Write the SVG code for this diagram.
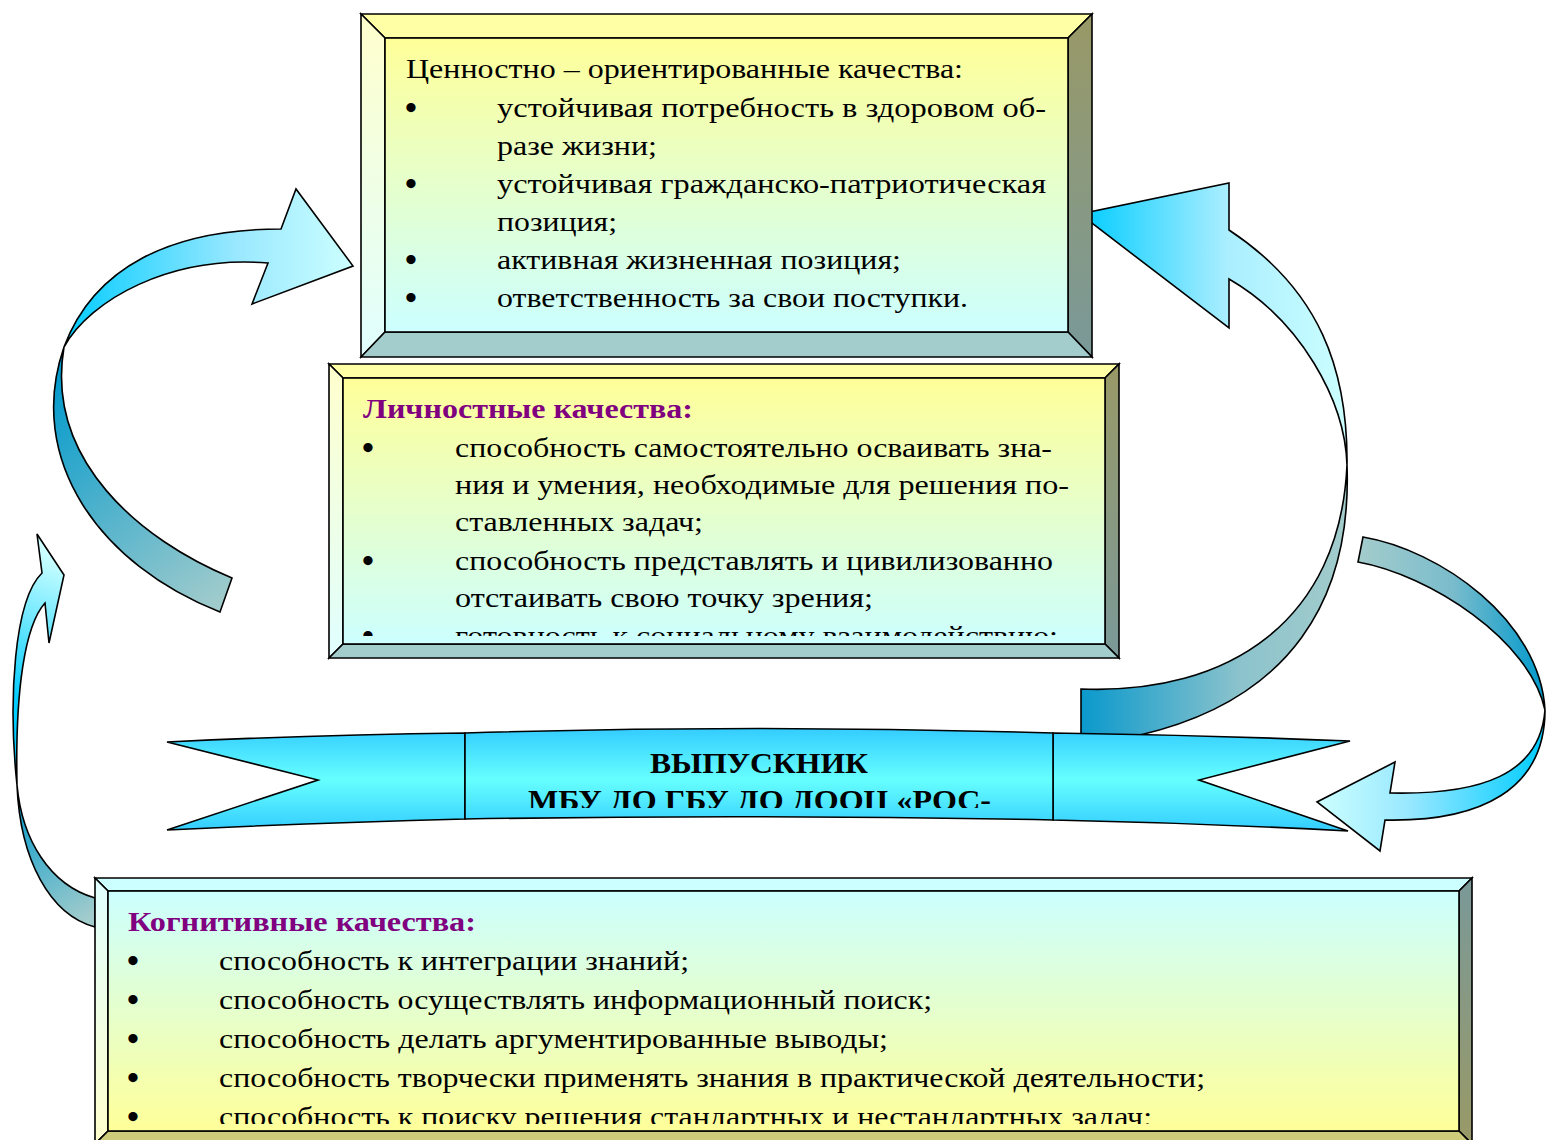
<svg xmlns="http://www.w3.org/2000/svg" width="1546" height="1140" viewBox="0 0 1546 1140">
<style>
.ol{stroke:#000;stroke-width:1.6;stroke-linejoin:miter}
.tx{font-family:"Liberation Serif","Times New Roman",serif;font-size:27px;fill:#000}
.bu{font-family:"Liberation Serif","Times New Roman",serif;font-size:34px;font-weight:bold;fill:#000}
.tt{font-family:"Liberation Serif","Times New Roman",serif;font-size:27px;font-weight:bold;fill:#800080}
.bn{font-family:"Liberation Serif","Times New Roman",serif;font-size:30px;font-weight:bold;fill:#000}
</style>
<defs>
<linearGradient id="faceYC" x1="0" y1="0" x2="0" y2="1"><stop offset="0" stop-color="#FFFF99"/><stop offset="1" stop-color="#CCFFFF"/></linearGradient>
<linearGradient id="faceCY" x1="0" y1="0" x2="0" y2="1"><stop offset="0" stop-color="#CCFFFF"/><stop offset="1" stop-color="#FFFF99"/></linearGradient>
<linearGradient id="leftYC" x1="0" y1="0" x2="0" y2="1"><stop offset="0" stop-color="#FFFFCC"/><stop offset="1" stop-color="#E0FFFF"/></linearGradient>
<linearGradient id="leftCY" x1="0" y1="0" x2="0" y2="1"><stop offset="0" stop-color="#E0FFFF"/><stop offset="1" stop-color="#FFFFCC"/></linearGradient>
<linearGradient id="rightYC" x1="0" y1="0" x2="0" y2="1"><stop offset="0" stop-color="#999966"/><stop offset="1" stop-color="#7A9999"/></linearGradient>
<linearGradient id="rightCY" x1="0" y1="0" x2="0" y2="1"><stop offset="0" stop-color="#7A9999"/><stop offset="1" stop-color="#999966"/></linearGradient>
<linearGradient id="band" gradientUnits="userSpaceOnUse" x1="0" y1="728" x2="0" y2="831"><stop offset="0" stop-color="#33CCFF"/><stop offset="0.5" stop-color="#66FFFF"/><stop offset="1" stop-color="#33CCFF"/></linearGradient>
<linearGradient id="gAup" gradientUnits="userSpaceOnUse" x1="60" y1="0" x2="353" y2="0"><stop offset="0" stop-color="#00CCFF"/><stop offset="0.6" stop-color="#99E8FF"/><stop offset="1" stop-color="#CCFFFF"/></linearGradient>
<linearGradient id="gAlow" gradientUnits="userSpaceOnUse" x1="55" y1="370" x2="230" y2="600"><stop offset="0" stop-color="#0099CC"/><stop offset="1" stop-color="#A3CCCC"/></linearGradient>
<linearGradient id="gBup" gradientUnits="userSpaceOnUse" x1="1080" y1="0" x2="1347" y2="0"><stop offset="0" stop-color="#00CCFF"/><stop offset="0.55" stop-color="#AAEEFF"/><stop offset="1" stop-color="#CCFFFF"/></linearGradient>
<linearGradient id="gBlow" gradientUnits="userSpaceOnUse" x1="1081" y1="0" x2="1347" y2="0"><stop offset="0" stop-color="#0A99CC"/><stop offset="0.6" stop-color="#8CC3CC"/><stop offset="1" stop-color="#A3CCCC"/></linearGradient>
<linearGradient id="gCup" gradientUnits="userSpaceOnUse" x1="1360" y1="0" x2="1545" y2="0"><stop offset="0" stop-color="#A3CCCC"/><stop offset="0.5" stop-color="#7ABCCC"/><stop offset="1" stop-color="#0099CC"/></linearGradient>
<linearGradient id="gClow" gradientUnits="userSpaceOnUse" x1="1545" y1="0" x2="1317" y2="0"><stop offset="0" stop-color="#00CCFF"/><stop offset="0.6" stop-color="#99E8FF"/><stop offset="1" stop-color="#CCFFFF"/></linearGradient>
<linearGradient id="gDup" gradientUnits="userSpaceOnUse" x1="12" y1="700" x2="64" y2="560"><stop offset="0" stop-color="#00CCFF"/><stop offset="1" stop-color="#CCFFFF"/></linearGradient>
<linearGradient id="gDlow" gradientUnits="userSpaceOnUse" x1="17" y1="790" x2="95" y2="915"><stop offset="0" stop-color="#0099CC"/><stop offset="1" stop-color="#A3CCCC"/></linearGradient>
<clipPath id="clip2"><rect x="340" y="370" width="770" height="266"/></clipPath>
<clipPath id="clip3"><rect x="105" y="885" width="1360" height="239"/></clipPath>
<clipPath id="clipBan"><rect x="465" y="720" width="588" height="88"/></clipPath>
</defs>

<g id="connectors">
  <g id="arrow-left-top">
    <path class="ol" fill="url(#gAup)" d="M 281,229 L 296,189 L 353,266 L 252,304 L 268,263 C 170,255 90,300 64,347 C 94,267 171,229 281,229 Z"/>
    <path class="ol" fill="url(#gAlow)" d="M 64,347 C 25,460 100,565 220,612 L 232,578 C 140,540 45,460 64,347 Z"/>
  </g>
  <g id="arrow-right-big">
    <path class="ol" fill="url(#gBup)" d="M 1229,230 L 1229,183 L 1080,214 L 1229,328 L 1229,279 C 1300,320 1345,400 1347,465 C 1348,370 1320,290 1229,230 Z"/>
    <path class="ol" fill="url(#gBlow)" d="M 1347,465 C 1352,600 1290,700 1140,735 L 1081,740 L 1081,689 C 1230,695 1340,620 1347,465 Z"/>
  </g>
  <g id="arrow-left-small">
    <path class="ol" fill="url(#gDup)" d="M 37,534 L 64,575 L 49,643 L 45,603 C 25,625 15,690 17,785 C 8,700 14,600 42,573 Z"/>
    <path class="ol" fill="url(#gDlow)" d="M 17,785 C 22,840 50,885 95,898 L 95,927 C 50,915 20,860 17,785 Z"/>
  </g>
</g>

<g id="banner">
  <path class="ol" fill="url(#band)" d="M 167,742 Q 310,735 465,733 L 465,819 Q 310,823 167,830 L 318,780 Z"/>
  <path class="ol" fill="url(#band)" d="M 1053,733 Q 1200,735 1350,741 L 1199,780 L 1348,831 Q 1200,823 1053,820 Z"/>
  <path class="ol" fill="url(#band)" d="M 465,733 Q 759,724 1053,733 L 1053,820 Q 759,814 465,819 Z"/>
  <g clip-path="url(#clipBan)">
    <text class="bn" x="650" y="773" textLength="218" lengthAdjust="spacingAndGlyphs">ВЫПУСКНИК</text>
    <text class="bn" x="528" y="810" textLength="463" lengthAdjust="spacingAndGlyphs">МБУ ДО ГБУ ДО ДООЦ «РОС-</text>
  </g>
</g>

<g id="connectors-front">
  <g id="arrow-right-small">
    <path class="ol" fill="url(#gCup)" d="M 1363,537 C 1440,550 1540,620 1545,710 C 1530,640 1430,575 1358,562 Z"/>
    <path class="ol" fill="url(#gClow)" d="M 1545,710 C 1545,790 1480,822 1385,820 L 1380,851 L 1317,802 L 1395,762 L 1390,793 C 1480,795 1540,775 1545,710 Z"/>
  </g>
</g>

<g id="box-values">
  <polygon class="ol" fill="#FFFFA6" points="361,14 1092,14 1068,38 385,38"/>
  <polygon class="ol" fill="url(#leftYC)" points="361,14 385,38 385,332 361,357"/>
  <polygon class="ol" fill="url(#rightYC)" points="1092,14 1092,357 1068,332 1068,38"/>
  <polygon class="ol" fill="#A3CCCC" points="361,357 385,332 1068,332 1092,357"/>
  <rect class="ol" fill="url(#faceYC)" x="385" y="38" width="683" height="294"/>
  <text class="tx" x="406" y="78" textLength="557" lengthAdjust="spacingAndGlyphs">Ценностно – ориентированные качества:</text>
  <text class="bu" x="405" y="119">•</text>
  <text class="tx" x="497" y="117" textLength="549" lengthAdjust="spacingAndGlyphs">устойчивая потребность в здоровом об-</text>
  <text class="tx" x="497" y="155" textLength="160" lengthAdjust="spacingAndGlyphs">разе жизни;</text>
  <text class="bu" x="405" y="195">•</text>
  <text class="tx" x="497" y="193" textLength="549" lengthAdjust="spacingAndGlyphs">устойчивая гражданско-патриотическая</text>
  <text class="tx" x="497" y="231" textLength="120" lengthAdjust="spacingAndGlyphs">позиция;</text>
  <text class="bu" x="405" y="271">•</text>
  <text class="tx" x="497" y="269" textLength="404" lengthAdjust="spacingAndGlyphs">активная жизненная позиция;</text>
  <text class="bu" x="405" y="309">•</text>
  <text class="tx" x="497" y="307" textLength="471" lengthAdjust="spacingAndGlyphs">ответственность за свои поступки.</text>
</g>

<g id="box-personal">
  <polygon class="ol" fill="#FFFFA6" points="329,364 1119,364 1105,378 343,378"/>
  <polygon class="ol" fill="url(#leftYC)" points="329,364 343,378 343,644 329,658"/>
  <polygon class="ol" fill="url(#rightYC)" points="1119,364 1119,658 1105,644 1105,378"/>
  <polygon class="ol" fill="#A3CCCC" points="329,658 343,644 1105,644 1119,658"/>
  <rect class="ol" fill="url(#faceYC)" x="343" y="378" width="762" height="266"/>
  <g clip-path="url(#clip2)">
    <text class="tt" x="363" y="418" textLength="330" lengthAdjust="spacingAndGlyphs">Личностные качества:</text>
    <text class="bu" x="362" y="459">•</text>
    <text class="tx" x="455" y="457" textLength="597" lengthAdjust="spacingAndGlyphs">способность самостоятельно осваивать зна-</text>
    <text class="tx" x="455" y="494" textLength="614" lengthAdjust="spacingAndGlyphs">ния и умения, необходимые для решения по-</text>
    <text class="tx" x="455" y="531" textLength="248" lengthAdjust="spacingAndGlyphs">ставленных задач;</text>
    <text class="bu" x="362" y="572">•</text>
    <text class="tx" x="455" y="570" textLength="598" lengthAdjust="spacingAndGlyphs">способность представлять и цивилизованно</text>
    <text class="tx" x="455" y="607" textLength="418" lengthAdjust="spacingAndGlyphs">отстаивать свою точку зрения;</text>
    <text class="bu" x="362" y="647">•</text>
    <text class="tx" x="455" y="645" textLength="603" lengthAdjust="spacingAndGlyphs">готовность к социальному взаимодействию;</text>
  </g>
</g>

<g id="box-cognitive">
  <polygon class="ol" fill="#CCFFFF" points="95,878 1472,878 1459,891 108,891"/>
  <polygon class="ol" fill="url(#leftCY)" points="95,878 108,891 108,1131 95,1144"/>
  <polygon class="ol" fill="url(#rightCY)" points="1472,878 1472,1144 1459,1131 1459,891"/>
  <polygon class="ol" fill="#CCCC7A" points="95,1144 108,1131 1459,1131 1472,1144"/>
  <rect class="ol" fill="url(#faceCY)" x="108" y="891" width="1351" height="240"/>
  <g clip-path="url(#clip3)">
    <text class="tt" x="128" y="931" textLength="348" lengthAdjust="spacingAndGlyphs">Когнитивные качества:</text>
    <text class="bu" x="127" y="972">•</text>
    <text class="tx" x="219" y="970" textLength="470" lengthAdjust="spacingAndGlyphs">способность к интеграции знаний;</text>
    <text class="bu" x="127" y="1011">•</text>
    <text class="tx" x="219" y="1009" textLength="713" lengthAdjust="spacingAndGlyphs">способность осуществлять информационный поиск;</text>
    <text class="bu" x="127" y="1050">•</text>
    <text class="tx" x="219" y="1048" textLength="669" lengthAdjust="spacingAndGlyphs">способность делать аргументированные выводы;</text>
    <text class="bu" x="127" y="1089">•</text>
    <text class="tx" x="219" y="1087" textLength="986" lengthAdjust="spacingAndGlyphs">способность творчески применять знания в практической деятельности;</text>
    <text class="bu" x="127" y="1128">•</text>
    <text class="tx" x="219" y="1126" textLength="933" lengthAdjust="spacingAndGlyphs">способность к поиску решения стандартных и нестандартных задач;</text>
  </g>
</g>
</svg>
